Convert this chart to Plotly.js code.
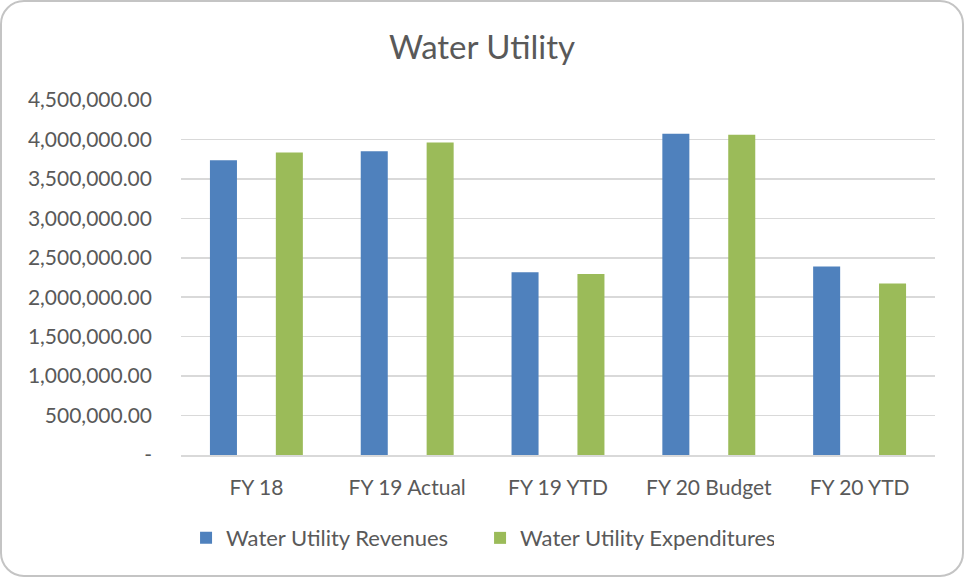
<!DOCTYPE html>
<html>
<head>
<meta charset="utf-8">
<script src="https://cdn.plot.ly/plotly-3.0.1.min.js"></script>
<style>
html,body{margin:0;padding:0;background:#fff;}
#wrap{position:absolute;left:0;top:0;width:960px;height:573px;border:2px solid #c4c4c4;border-radius:24px;overflow:hidden;}
#chart{position:absolute;left:-2px;top:-2px;width:964px;height:577px;}
</style>
</head>
<body>
<div id="wrap"><div id="chart"></div></div>
<script>
const categories = ["FY 18", "FY 19 Actual", "FY 19 YTD", "FY 20 Budget", "FY 20 YTD"];
const revenues = [3737000, 3851000, 2318000, 4072000, 2391000];
const expenditures = [3835000, 3962000, 2293000, 4060000, 2175000];
const yTickVals = [0, 500000, 1000000, 1500000, 2000000, 2500000, 3000000, 3500000, 4000000, 4500000];
const yTickText = ["-", "500,000.00", "1,000,000.00", "1,500,000.00", "2,000,000.00", "2,500,000.00", "3,000,000.00", "3,500,000.00", "4,000,000.00", "4,500,000.00"];

const FONT = "Lato, 'Open Sans', sans-serif";
const TXT = "#595959";

const data = [
  {type: "bar", name: "Water Utility Revenues", x: categories, y: revenues, marker: {color: "#4f81bd"}},
  {type: "bar", name: "Water Utility Expenditures", x: categories, y: expenditures, marker: {color: "#9bbb59"}}
];

const layout = {
  width: 964, height: 577,
  paper_bgcolor: "rgba(0,0,0,0)", plot_bgcolor: "rgba(0,0,0,0)",
  margin: {l: 181, r: 29, t: 100, b: 122, autoexpand: false},
  barmode: "group", bargap: 0.126, bargroupgap: 0.59,
  title: {text: "Water Utility", x: 0.5, xanchor: "center", y: 0.918, yanchor: "middle",
          font: {family: FONT, size: 33, color: TXT}},
  font: {family: FONT, color: TXT},
  xaxis: {showgrid: false, showline: true, linecolor: "#d9d9d9", linewidth: 1.5, tickangle: 0, automargin: false,
          ticks: "", tickfont: {family: FONT, size: 21, color: TXT}, ticklabelstandoff: 13},
  yaxis: {range: [0, 4500000], tickvals: yTickVals, ticktext: yTickText, automargin: false,
          showgrid: true, gridcolor: "#d9d9d9", gridwidth: 1.5, zeroline: false, showline: false,
          ticks: "", tickfont: {family: FONT, size: 21, color: TXT}, ticklabelstandoff: 28},
  showlegend: true,
  legend: {orientation: "h", xref: "container", x: 0.193, xanchor: "left", y: -0.234, yanchor: "middle",
           entrywidth: 249, entrywidthmode: "pixels",
           font: {family: FONT, size: 22, color: TXT}, itemwidth: 30, tracegroupgap: 0}
};

Plotly.newPlot("chart", data, layout, {displayModeBar: false, staticPlot: true});
</script>
</body>
</html>
